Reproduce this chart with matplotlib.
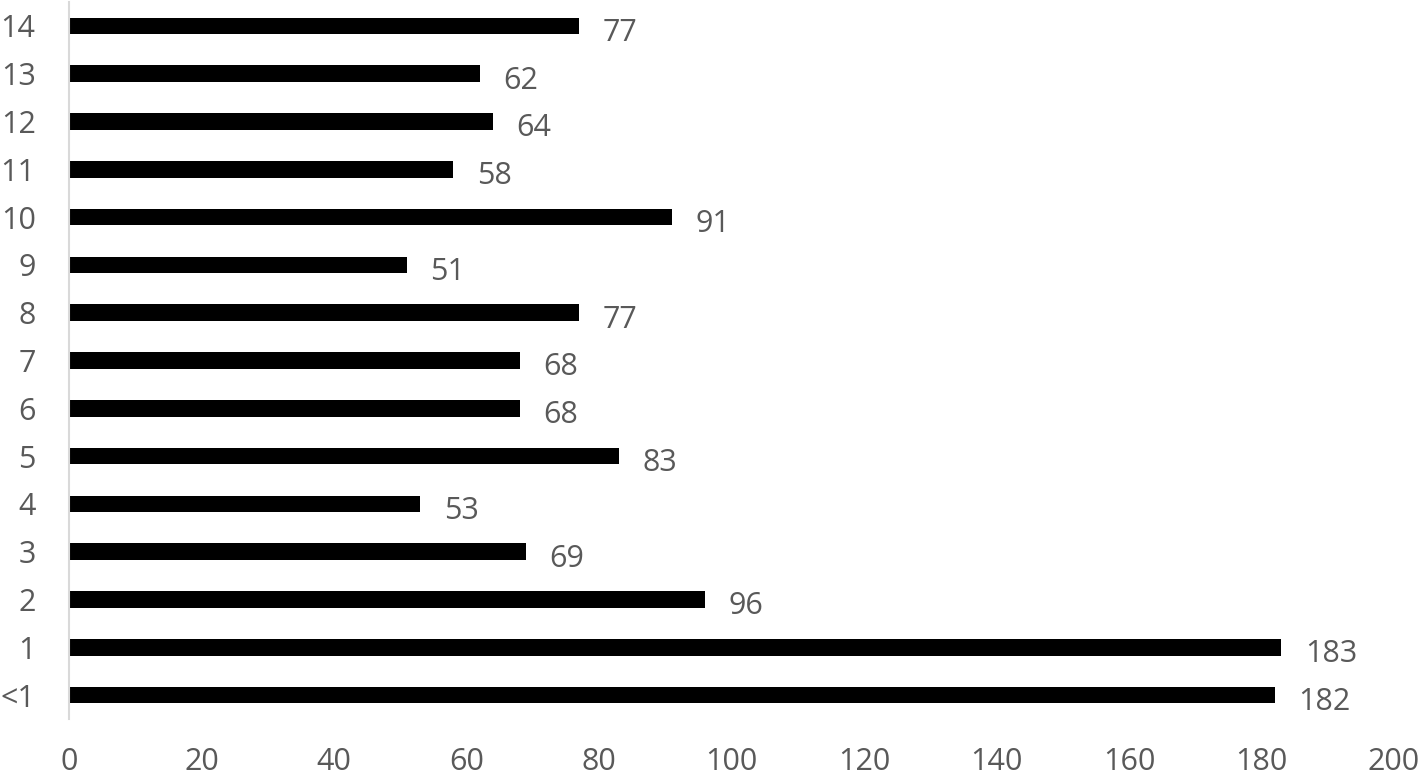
"""Horizontal bar chart of counts per category."""
import matplotlib
matplotlib.use('Agg')
import matplotlib.pyplot as plt

categories = ['<1', '1', '2', '3', '4', '5', '6', '7', '8', '9', '10', '11', '12', '13', '14']
values = [182, 183, 96, 69, 53, 83, 68, 68, 77, 51, 91, 58, 64, 62, 77]
x_ticks = [0, 20, 40, 60, 80, 100, 120, 140, 160, 180, 200]

plt.rcParams['font.family'] = ['Open Sans', 'DejaVu Sans']
grey = '#595959'

fig = plt.figure(figsize=(14.18, 7.78), dpi=100)
ax = fig.add_axes([69 / 1418, 1 - 719 / 778, (1394 - 69) / 1418, (719 - 2) / 778])

pos = list(range(len(categories)))
ax.barh(pos, values, height=0.35, color='black')

for p, v in zip(pos, values):
    ax.annotate(str(v), (v, p), xytext=(17, -5), textcoords='offset points',
                ha='left', va='center', fontsize=22, color=grey)

ax.set_xlim(0, 200)
ax.set_ylim(-0.5, len(categories) - 0.5)
ax.set_yticks(pos)
ax.set_yticklabels(categories)
ax.set_xticks(x_ticks)
ax.tick_params(axis='both', length=0, labelsize=22, labelcolor=grey)
ax.tick_params(axis='y', pad=24)
ax.tick_params(axis='x', pad=20)

for s in ['top', 'right', 'bottom']:
    ax.spines[s].set_visible(False)
ax.spines['left'].set_color('#d9d9d9')
ax.spines['left'].set_linewidth(1.5)

fig.savefig('out.png', dpi=100)
